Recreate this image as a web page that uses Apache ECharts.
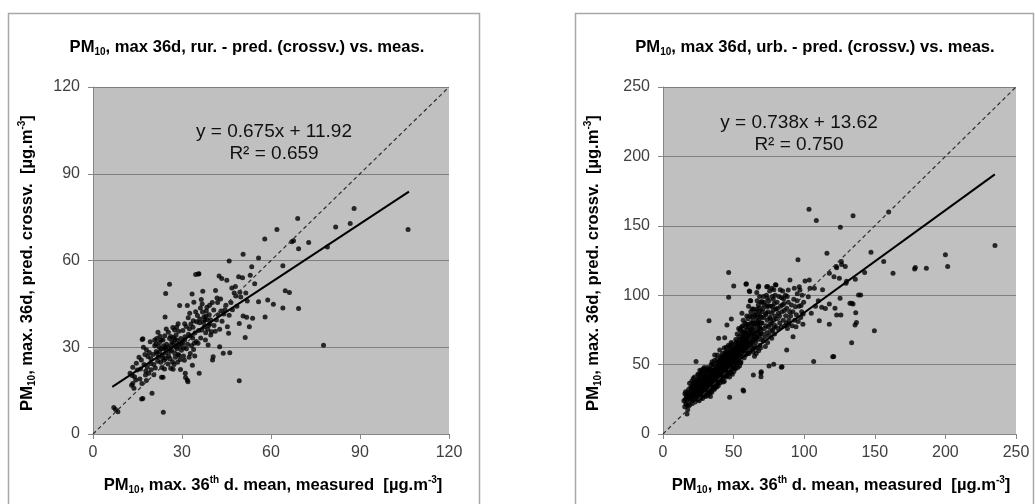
<!DOCTYPE html>
<html>
<head>
<meta charset="utf-8">
<script src="https://cdn.jsdelivr.net/npm/echarts@6/dist/echarts.min.js"></script>
<style>
  html, body { margin: 0; padding: 0; background: #ffffff; }
  #chart { width: 1035px; height: 504px; }
</style>
</head>
<body>
<div id="chart"></div>
<script>
// ---- rural stations: predicted (cross-validated) vs. measured, µg/m3 ----
const rurPoints = [
  [7,9.2],[7.6,8.5],[8.4,7.7],[13,16.9],[13.4,23.1],[13.4,17.5],[13.8,15.8],[14,19.8],[14.4,18.7],[14.9,22.1],[12.5,21],[13.2,20.2],[14.6,24.5],
  [16.4,12.1],[16.6,32.7],[16.3,25.6],[16.8,32.9],[16.8,12.3],[17.7,20.4],[18,29.1],[18.8,21],[19.4,24.4],[19.3,31.9],[19.9,14.1],[15.5,26.5],[16,22.5],
  [17.2,24],[17.5,27.5],[18.3,23.2],[18.5,26.8],[19,28.2],[19.6,22.2],[17,30],[15.8,19],[16.5,17.5],[18,18.5],[19.5,26],[17.8,21.8],
  [20.2,27.5],[20.5,24],[20.8,30.5],[21,22.8],[21.3,28.5],[21.5,33],[21.9,35.2],[22,26.5],[22.2,30.2],[22.5,28.5],[22.8,24.8],[23,32.5],[23.1,19.6],
  [23.3,27.2],[23.6,19.6],[23.6,32.5],[23.7,7.5],[23.9,29.5],[24,25.5],[24.2,34],[24.3,40.5],[24.5,48.6],[24.5,28],[24.7,36.3],[24.8,31],[20.5,20.5],
  [21.8,25.2],[22.6,33.8],[23.2,23],[24.1,22.5],[20.8,32.5],[22.9,29.5],[21.2,31.2],[24.6,26.2],[23.8,30.5],[21.6,27.8],[22.4,31.6],[23.5,26.3],[24.4,29.7],
  [25.2,30],[25.5,27],[25.8,51.8],[25.8,33],[26.2,22.7],[26.2,33.7],[26.5,29],[26.8,25],[27,22.4],[27.2,31.5],[27.5,36],[27.5,28],[27.8,26.5],[28,34.2],
  [28.3,29.5],[28.5,24.8],[28.7,38.1],[28.8,31],[29,27.2],[29.2,44.4],[29.5,22.3],[29.6,33],[29.8,29],[25.4,35.2],[26,26],[26.6,31.8],[27.3,24],[27.9,30.2],
  [28.2,37],[28.9,35.5],[29.4,25.8],[25.9,28.5],[27.1,33.4],[28.6,27.5],[29.7,31.3],[25.3,24.2],[26.9,36.8],[26.3,30.6],[27.6,32.8],[28.4,32.4],[29.3,29.9],
  [30.2,31.5],[30.5,27],[30.9,38.1],[30.9,32.5],[31.1,21],[31.2,19.5],[31.5,29.5],[31.8,44.4],[31.8,18.7],[32,18.1],[32.2,34.5],[32.6,41.8],[32.8,27.8],
  [32.9,33.9],[33.2,30.5],[33.4,48.4],[33.5,23.8],[33.7,36.9],[33.8,39.2],[34,45.6],[34.3,27],[34.6,42.3],[34.6,55.2],[34.8,32],[30.3,35.8],[30.8,25.5],
  [31.4,37.2],[31.9,31],[32.4,26.5],[33,38],[33.9,29.2],[34.4,35],[30.6,29.8],[32.1,40.2],[33.6,33.2],[34.9,38.8],[31,33.6],[32.5,36.4],[34.1,31.4],
  [35.4,31.4],[35.5,55.3],[35.7,55.4],[35.8,21],[36.6,36],[36.8,45],[37,49.4],[37.4,40.5],[37.7,39.4],[38,35],[38.2,42.5],[38.4,43.8],[38.8,30.8],
  [39,37.5],[39.4,38.1],[39.7,34.2],[39.9,35.4],[35.2,41],[35.9,38.5],[36.3,33.2],[36.9,42.2],[37.5,37],[38.5,39.5],[39.2,41.2],[39.6,39.5],[35.6,35.8],
  [36.5,46.5],[37.9,32.5],[38.7,36.2],[39.3,44.5],[36,39.8],[38.1,40.8],[37.2,38.6],[36.2,43.6],
  [40.3,25.6],[40.5,26.7],[40.7,42.9],[41.3,49.6],[41.6,39.4],[42,45.5],[42.5,54.6],[42.7,30.2],[42.7,36.2],[43,46.7],[43.4,53.8],[43.9,27.9],[44.1,41.5],
  [44.5,43],[40.8,37.5],[41.2,35.5],[42.2,41.2],[43.5,39],[44.8,44.5],[40.2,45.5],[41.8,47],[43.2,42.5],
  [45.1,53.2],[45.3,37.1],[45.7,34.8],[45.9,41.1],[45.9,59.8],[46.1,28.1],[46.5,45.5],[47,43],[47.6,48.8],[48.2,47.7],[48.5,44.2],[49.1,54.4],[49.3,18.4],
  [49.3,38.2],[49.8,47.4],[46.8,50.5],[48,51],[49.5,49],
  [50.4,54],[50.6,62.2],[50.6,40.8],[51.3,33.4],[51.5,48.8],[51.8,40.4],[52.7,37.1],[53,54.9],[53.5,57.8],[53.8,40],[55.8,60.9],[55.8,45.7],[57.9,67.4],
  [58,40.5],[58.9,46.3],[52,46],[54.5,52],
  [60.8,44.9],[62,70.7],[64,58.2],[64,43.6],[64.8,49.5],[66.2,48.9],[67.6,66.8],[67,66.5],[69,74.5],[69.3,64.1],[69.3,43.4],[72.7,66.2],[77.7,30.7],
  [79,64.7],[81.8,71.6],[86.7,72.8],[88,78],[106.2,70.7]
];

// ---- urban stations: predicted (cross-validated) vs. measured, µg/m3 ----
const urbPoints = [
  [15.4,19.7],[15.8,25],[16.2,22],[16.5,27.5],[17,14.4],[17,24.5],[17.4,30],[17.8,20],[18.2,32.2],[18.5,26],[18.9,20.9],[19.2,29],[19.5,23.5],[19.8,34],
  [16,30.5],[17.5,17.5],[18.8,36.5],[19.6,27],[14.8,24],[16.8,21],[18,28],[19.9,31.5],[17.2,26.5],[15.5,29],
  [20.2,25],[20.4,38],[20.6,30],[20.8,22],[21,33],[21.3,27],[21.5,35.5],[21.8,24.5],[22,30.5],[22.3,41],[22.5,28],[22.8,33.8],[23,25.5],[23.2,37],
  [23.4,52.2],[23.8,30],[24,35],[24.2,27.5],[24.5,39.5],[24.8,32],[20.5,34],[21.2,29],[22,37.5],[22.7,23],[23.5,33],[24.3,29.8],[24.7,43],[20.9,26.8],
  [21.7,31.5],[22.4,35],[23.1,28.8],[23.9,38],[24.6,24.8],[20.1,28.5],[21.4,40],[22.9,31],[24.1,33.5],
  [25.1,30],[25.3,36],[25.5,27],[25.7,40],[25.9,33],[26.1,46],[26.3,29],[26.5,38],[26.7,31.5],[26.9,35],[27.1,42],[27.3,27.5],[27.5,33],[27.7,37.5],
  [27.9,30],[28.1,44],[28.3,34],[28.5,28],[28.7,39],[28.9,31.5],[29.1,36.5],[29.3,48],[29.5,33],[29.7,41],[29.9,29.5],[25.2,42.5],[25.8,31],[26.4,35.5],
  [27,28.8],[27.6,40.5],[28.2,36],[28.8,42],[29.4,38],[25.6,24],[26.8,26],[28,25.5],[29.2,27.5],[25.4,38.5],[26.6,43.5],[27.8,34.8],[29,33.8],[29.8,45],
  [26.2,32.5],[27.4,37],[28.6,31],[29.6,35.2],[25,34],[27.2,45.5],[28.4,47],[29.9,39.5],
  [30.1,32],[30.3,38],[30.5,42],[30.7,29],[30.9,35],[31.1,46],[31.3,33],[31.5,39.5],[31.7,36],[31.9,28],[32.1,43],[32.3,34.5],[32.6,81.6],[32.5,40.5],
  [32.7,31],[32.9,47],[33.1,37],[33.3,44],[33.5,30],[33.7,41],[33.9,35.5],[34.1,50],[34.3,38.5],[34.5,33],[34.7,45],[34.9,40],[30.2,27],[30.8,44.5],
  [31.4,30.5],[32,37.5],[32.6,35],[33.2,33.5],[33.8,39],[34.4,43],[30.4,36.5],[31,40.5],[31.6,48],[32.2,32],[32.8,38.5],[33.4,46.5],[34,36.5],[34.6,30],
  [34.8,52],[33.6,27],[31.8,34],[30.6,33.5],[32.4,45.5],[33,29.5],[34.2,41.5],[30,40],
  [35.1,38],[35.3,44],[35.5,35],[35.7,48],[35.9,41],[36.1,32],[36.3,46],[36.6,56.9],[36.5,39],[36.7,43],[36.9,36],[37.1,51],[37.3,40],[37.5,34],
  [37.7,47],[37.9,42],[38.1,38],[38.3,54],[38.5,44.5],[38.7,36.5],[38.9,49],[39.1,41],[39.4,68.9],[39.3,45.5],[39.5,38],[39.7,52],[39.9,43],[35.4,41.5],
  [36,44.5],[36.8,33],[37.6,45],[38.4,40.5],[39.2,35],[35.8,37],[37,38],[38,48.5],[39,51.5],[35.2,50],[36.4,53],[37.4,42.5],[38.6,57],[39.6,47.5],
  [36.2,35.5],[37.8,39.5],[39.8,40],[35.6,46],[38.2,34],
  [40.1,44],[40.2,60.5],[40.3,50],[40.5,41],[40.7,47],[40.9,55],[41.1,39],[41.3,45],[41.5,52],[41.7,43],[41.9,48.5],[42.1,58],[42.3,40.5],[42.5,46],
  [42.7,53],[42.9,44],[43.1,50],[43.3,62],[43.5,42],[43.7,69.4],[43.7,47.5],[43.9,55],[44.1,45],[44.3,51],[44.5,59],[44.7,43.5],[44.9,49],[40.4,37],
  [41,48],[41.6,56],[42.2,44.5],[42.8,50.5],[43.4,38],[44,53.5],[44.6,47],[40.6,53],[41.4,42],[42,52],[42.6,37.5],[43.2,45.5],[43.8,58],[44.4,41],
  [40.8,45],[41.8,50],[42.4,55.5],[43,48],[44.2,56.5],[44.8,62.5],[40,50],[43.6,52.5],
  [45.1,50],[45.3,78.5],[45.3,56],[45.5,46],[45.7,52],[45.9,60],[46.1,44],[46.3,54],[46.5,116.3],[46.5,98.6],[46.6,48],[46.8,58],[47,51],[47.2,26.4],
  [47.2,63],[47.4,46.5],[47.6,55],[47.8,50],[48,60.5],[48.2,44],[48.4,82.9],[48.4,53],[48.6,57],[48.8,49],[49,65],[49.2,52],[49.4,47],[49.6,58.5],
  [49.8,54],[45.4,42],[46,49.5],[46.7,53],[47.3,59],[48,47],[48.7,62],[49.3,56],[45.8,55.5],[46.4,64],[47.1,41],[47.9,57.5],[48.5,51],[49.1,43],
  [49.7,61],[45.6,58.8],[46.2,51.5],[47.5,49],[48.3,66],[49.5,50],[46.9,45],
  [50.1,106.7],[50.1,52],[50.3,58],[50.5,64],[50.7,48],[50.9,55],[51.1,61],[51.3,52],[51.5,68],[51.7,57],[51.9,50],[52.1,63],[52.3,55],[52.5,72],
  [52.7,58],[52.9,48],[53.1,61],[53.3,66],[53.5,53],[53.7,70],[53.9,59],[54.1,64],[54.3,56],[54.5,75],[54.7,61],[54.9,51],[50.2,45],[50.8,60.5],
  [51.4,47],[52,66.5],[52.6,51.5],[53.2,57],[53.8,62],[54.4,68],[50.6,55.5],[51.2,56.5],[51.8,62],[52.4,59],[53,53.5],[53.6,76],[54.2,49],[54.8,65],
  [50.4,51],[52.8,65],[54.7,75.4],
  [55.1,60],[55.3,66],[55.5,72],[55.7,56],[55.9,87],[55.9,63],[56.1,69],[56.3,58],[56.5,78],[56.7,31.7],[56.7,64],[56.9,71],[57.1,31],[57.1,60],
  [57.3,67],[57.5,55],[57.7,74],[57.9,62],[58.1,80],[58.3,68],[58.5,57],[58.8,107.8],[58.7,64],[58.9,72],[59,108.2],[59.1,60],[59.3,85],[59.5,66],
  [59.7,75],[59.9,58],[55.2,52],[55.8,68],[56.4,73.5],[57,65.5],[57.6,70],[58.2,62.5],[58.8,77],[59.4,69],[55.6,77],[56.2,62],[56.8,82],[57.4,59],
  [58,72.5],[58.6,66.5],[59.2,79],[59.8,63],
  [60.1,70],[60.3,62],[60.5,77],[60.7,66],[60.9,58],[61.1,103],[61.1,73],[61.4,102.6],[61.3,68],[61.5,85],[61.8,96],[61.7,60],[61.9,75],[62.1,96],
  [62.3,66],[62.5,80],[62.7,71],[62.9,63],[63.1,90],[63.3,74],[63.5,68],[63.7,82],[63.9,59],[64,42.5],[64.1,77],[64.3,70],[64.5,86],[64.7,64],
  [64.9,73],[60.2,83],[60.8,71.5],[61.6,64.5],[62.2,88],[62.8,76],[63.4,61],[64,79.5],[64.6,68],[60.6,92],[61.2,79],[62.4,72],[63,84.5],[63.6,66],
  [64.2,90],[64.8,56],
  [65.1,72],[65.3,80],[65.5,66],[65.7,88],[65.9,75],[66.1,62],[66.3,84],[66.5,70],[66.7,96],[66.9,78],[67.1,68],[67.3,86],[67.5,105.7],[67.5,92.9],
  [67.5,74],[67.8,106.7],[67.7,60],[67.9,82],[68.1,70],[68.3,91],[68.5,77],[68.7,64],[68.9,85],[69.1,72],[69.4,41.3],[69.4,44],[69.3,95],[69.6,44.9],
  [69.5,80],[69.7,68],[69.9,88],[65.4,85],[66,58],[66.6,90],[67.2,79.5],[67.8,73],[68.4,99],[69,62],[69.6,75],[65.8,69],[66.4,102],[67,81],
  [68.2,88.5],[68.8,76],[69.8,84],
  [70.2,80],[70.5,72],[70.8,90],[71.1,67],[71.4,84],[71.7,76],[72,95],[72.3,70],[72.6,86],[72.9,78],[73.2,100],[73.4,106.1],[73.5,73],[73.7,91.7],
  [73.8,82],[74.1,106.3],[74.1,66],[74.4,88],[74.7,77],[75.1,49],[75,96],[75.3,71],[75.6,84],[75.9,79],[76.2,92],[76.5,74],[77,105],[76.8,87],
  [77.1,80],[77.4,99],[77.7,75],[78.1,97],[78,89],[78.4,50.2],[78.3,82],[78.6,77],[78.9,94],[79.2,85],[79.6,107.5],[79.5,78],[79.8,90],[70,95.5],
  [71,99],[72.5,63],[74,98],[75.5,103],[77,69],[78.5,104],[79,72],[80,107.3],[71.5,93],[73,87],[76,83],[74.5,92.5],[77.5,92],[79.5,100],
  [80.3,83],[80.8,95],[81.3,76],[81.7,87],[82.2,99],[82.7,80],[83.2,92],[83.8,48.1],[83.7,77],[84,98.2],[84.3,48.5],[84.2,88],[84.7,103],[85.2,82],
  [85.7,94],[86.2,78],[86.7,100],[87.2,85],[87.6,90.6],[87.6,60.5],[88.1,76],[88.7,103.7],[88.7,95],[89.2,82],[89.9,110.9],[89.7,88],[81,90.5],
  [82.5,85],[84.5,93],[86,89],[87.5,80],[89,79],[83,104],[85.5,97.5],[88,99],
  [90.3,85],[91,93],[91.5,78],[92.1,70.1],[92,88],[92.6,97],[93.2,82],[93.7,91.7],[94.2,77.3],[94.5,86],[95.1,101],[95.6,125.5],[95.8,81],[96.5,106.1],
  [96.3,92],[97,103.7],[97.5,84],[98.2,88.1],[98.5,100],[99.1,79],[99.6,95],[100.6,110.2],[93,105],[95,96],[97.8,92.5],[99.3,86.5],
  [102.9,98.9],[103.4,162],[103.6,110.9],[104.1,105],[105,87],[106.7,52.2],[107.2,105],[108.6,153.8],[108,92],[110.7,81.6],[110,96],[112.4,91.3],
  [113,104],[116.1,130.3],[115,90.5],[117.8,115.8],[117.8,93.7],[117.8,79],[120.2,55.7],[120.9,55.8],[121.1,113.3],[121.8,90.6],[122.7,120.7],
  [123,85.7],[123,119.8],[124.9,112.2],[125.4,97.8],[125.6,149],[126,85.8],[126.3,124.3],[126.5,122.2],[129.1,120.7],[129.6,108.6],[130,110],
  [132.4,94.2],[133.6,65.8],[133.7,94.2],[134.6,93.7],[134.6,157.2],[136.2,111.5],[136.5,87.4],[137,80.3],[136,78.5],[138.5,100.1],[140,100.2],
  [142.8,116.3],[147.3,131],[149.7,74.3],[156.3,124.3],[159.8,159.9],[162.9,115.9],[178.7,120],[178.2,118.9],[186.5,119.5],[200,129.1],[201.6,120.7],
  [235.1,135.8]
];

// linear fits as printed on the charts: [slope, intercept], R², and the x-span of the fitted line
const rurFit = [0.675, 11.92];
const rurR2 = 0.659;
const rurFitSpan = [6.5, 106.5];
const urbFit = [0.738, 13.62];
const urbR2 = 0.750;
const urbFitSpan = [15, 235];

// axis ticks
const rurTicks = [0, 30, 60, 90, 120];
const urbTicks = [0, 50, 100, 150, 200, 250];

const FONT = 'Liberation Sans, Arial, sans-serif';

function fitLine(fit, span) {
  return span.map(x => [x, fit[0] * x + fit[1]]);
}
function eqText(fit, r2) {
  return 'y = ' + fit[0].toFixed(3) + 'x + ' + fit[1].toFixed(2) + '\nR\u00B2 = ' + r2.toFixed(3);
}

// bold text with sub/superscript runs
const richBold = {
  b:  { fontFamily: FONT, fontWeight: 'bold', fontSize: 16.6, lineHeight: 20, color: '#000', verticalAlign: 'middle' },
  bs: { fontFamily: FONT, fontWeight: 'bold', fontSize: 10, lineHeight: 10, color: '#000', verticalAlign: 'bottom' },
  bp: { fontFamily: FONT, fontWeight: 'bold', fontSize: 10, lineHeight: 10, color: '#000', verticalAlign: 'top' }
};

function grid(left, width) {
  return { left: left, top: 87, width: width, height: 347, show: true,
           backgroundColor: '#c0c0c0', borderWidth: 0, containLabel: false };
}
function xAxis(idx, ticks) {
  return {
    type: 'value', gridIndex: idx, min: ticks[0], max: ticks[ticks.length - 1],
    interval: ticks[1] - ticks[0],
    axisLine: { show: true, lineStyle: { color: '#868686', width: 1 } },
    axisTick: { show: true, length: 5, lineStyle: { color: '#868686' } },
    splitLine: { show: false },
    axisLabel: { fontFamily: FONT, fontSize: 16, color: '#404040', margin: 11 }
  };
}
function yAxis(idx, ticks) {
  return {
    type: 'value', gridIndex: idx, min: ticks[0], max: ticks[ticks.length - 1],
    interval: ticks[1] - ticks[0],
    axisLine: { show: true, onZero: false, lineStyle: { color: '#868686', width: 1 } },
    axisTick: { show: true, length: 5, lineStyle: { color: '#868686' } },
    splitLine: { show: true, lineStyle: { color: '#7f7f7f', width: 1 } },
    axisLabel: { fontFamily: FONT, fontSize: 16, color: '#404040', margin: 13 }
  };
}
function seriesFor(idx, pts, fit, span, maxV) {
  return [
    { type: 'scatter', xAxisIndex: idx, yAxisIndex: idx, data: pts, symbol: 'circle', symbolSize: 5,
      itemStyle: { color: '#000' }, silent: true, z: 2 },
    { type: 'line', xAxisIndex: idx, yAxisIndex: idx, data: [[0, 0], [maxV, maxV]], symbol: 'none',
      lineStyle: { color: '#2e2e2e', width: 1.2, type: [4, 3] }, silent: true, z: 3 },
    { type: 'line', xAxisIndex: idx, yAxisIndex: idx, data: fitLine(fit, span), symbol: 'none',
      lineStyle: { color: '#000', width: 2 }, silent: true, z: 4 }
  ];
}
function textEl(x, y, text, rotation) {
  return { type: 'text', x: x, y: y, rotation: rotation || 0, z: 10,
           style: { text: text, rich: richBold, align: 'center', verticalAlign: 'middle' } };
}
function eqEl(x, y, text) {
  return { type: 'text', x: x, y: y, z: 10,
           style: { text: text, fontFamily: FONT, fontSize: 19, lineHeight: 22, fill: '#111',
                    align: 'center', verticalAlign: 'middle' } };
}

const xTitle = '{b|PM}{bs|10}{b|, max. 36}{bp|th}{b| d. mean, measured  [\u00B5g.m}{bp|-3}{b|]}';
const yTitle = '{b|PM}{bs|10}{b|, max. 36d, pred. crossv.  [\u00B5g.m}{bp|-3}{b|]}';

const chart = echarts.init(document.getElementById('chart'), null, { renderer: 'canvas' });
chart.setOption({
  animation: false,
  backgroundColor: '#ffffff',
  grid: [grid(93, 356), grid(663, 353)],
  xAxis: [xAxis(0, rurTicks), xAxis(1, urbTicks)],
  yAxis: [yAxis(0, rurTicks), yAxis(1, urbTicks)],
  series: [].concat(
    seriesFor(0, rurPoints, rurFit, rurFitSpan, rurTicks[rurTicks.length - 1]),
    seriesFor(1, urbPoints, urbFit, urbFitSpan, urbTicks[urbTicks.length - 1])
  ),
  graphic: [
    { type: 'rect', shape: { x: 8.5, y: 13.5, width: 471, height: 520 }, z: 0,
      style: { fill: 'none', stroke: '#a8a8a8', lineWidth: 1.5 } },
    { type: 'rect', shape: { x: 575.5, y: 13.5, width: 458, height: 520 }, z: 0,
      style: { fill: 'none', stroke: '#a8a8a8', lineWidth: 1.5 } },
    textEl(247, 47, '{b|PM}{bs|10}{b|, max 36d, rur. - pred. (crossv.) vs. meas.}'),
    textEl(815, 47, '{b|PM}{bs|10}{b|, max 36d, urb. - pred. (crossv.) vs. meas.}'),
    textEl(273, 485, xTitle),
    textEl(841, 485, xTitle),
    textEl(27, 263, yTitle, Math.PI / 2),
    textEl(593, 263, yTitle, Math.PI / 2),
    eqEl(274, 143, eqText(rurFit, rurR2)),
    eqEl(799, 134, eqText(urbFit, urbR2))
  ]
});
</script>
</body>
</html>
